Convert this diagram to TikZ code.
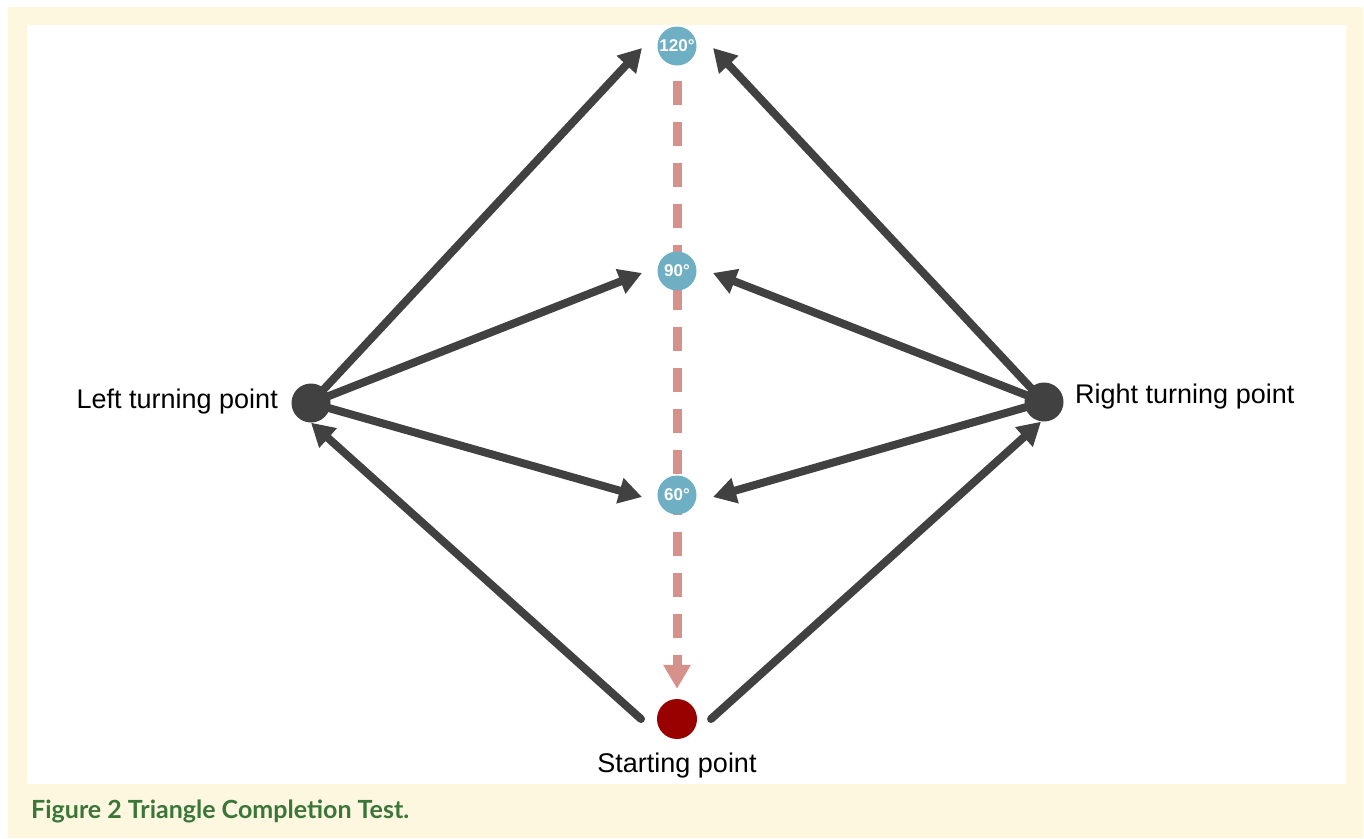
\documentclass[tikz,border=0pt]{standalone}
\usepackage{fontspec}
\setmainfont{Liberation Sans}
\newfontfamily\capfont{Lato}
\usetikzlibrary{arrows.meta}
\definecolor{cream}{HTML}{FDF7E0}
\definecolor{darkgrey}{HTML}{414141}
\definecolor{angleblue}{HTML}{6FAFC4}
\definecolor{startred}{HTML}{990000}
\definecolor{pathpink}{HTML}{D5918A}
\definecolor{capgreen}{HTML}{3A763A}
\pgfdeclarelayer{back}
\pgfdeclarelayer{mid}
\pgfsetlayers{back,mid,main}
\tikzset{
  turn/.style={circle, fill=darkgrey, minimum size=39pt, inner sep=0pt},
  angle/.style={circle, fill=angleblue, minimum size=39pt, inner sep=0pt,
    text=white, font=\bfseries\fontsize{17}{17}\selectfont},
  origin/.style={circle, fill=startred, minimum size=40pt, inner sep=0pt},
  lbl/.style={font=\fontsize{27}{31}\selectfont, inner sep=0pt},
  walk/.style={draw=darkgrey, line width=8pt, line cap=round,
    -{Triangle[length=23pt, width=25pt]}},
  home/.style={draw=pathpink, line width=9pt, dash pattern=on 24pt off 17pt,
    -{Triangle[length=24pt, width=26pt]}}
}
\begin{document}
\begin{tikzpicture}[x=1pt, y=-1pt]
\useasboundingbox (0,0) rectangle (1364,838);
\begin{pgfonlayer}{back}
  \fill[cream] (8,7) rectangle (1363,838);
  \fill[white] (27,25) rectangle (1346,784);
\end{pgfonlayer}

% points of the walk
\node[angle]  (a120) at (677,46)  {120°};
\node[angle]  (a90)  at (677,271) {90°};
\node[angle]  (a60)  at (677,495) {60°};
\node[origin] (S)    at (677,719) {};
\node[turn]   (L)    at (311,403) {};
\node[turn]   (R)    at (1044,402) {};

% labels
\node[lbl, anchor=east] (Llbl) at (278,402) {Left turning point};
\node[lbl, anchor=west] (Rlbl) at (1075,397) {Right turning point};
\node[lbl] (Slbl) at (677,766) {Starting point};

% homing path, behind the angle markers
\begin{pgfonlayer}{mid}
  \draw[home, shorten <=15pt, shorten >=10pt] (a120) -- (S);
\end{pgfonlayer}

% outward legs, leaving beside the starting point
\draw[walk] ([xshift=-36pt]S.center) -- (L.south);
\draw[walk] ([xshift=34pt]S.center) -- ([xshift=-3pt]R.south);

% legs from the turning points, ending beside the angle markers
\foreach \a in {a120,a90,a60}{
  \draw[walk] (L.center) -- ([xshift=-35pt,yshift=-2pt]\a.center);
  \draw[walk] (R.center) -- ([xshift=36pt,yshift=-2pt]\a.center);
}

% caption
\node[anchor=base west, inner sep=0pt, text=capgreen,
  font=\capfont\bfseries\fontsize{25}{28}\selectfont] (cap) at (31,818)
  {Figure 2 Triangle Completion Test.};
\end{tikzpicture}
\end{document}
